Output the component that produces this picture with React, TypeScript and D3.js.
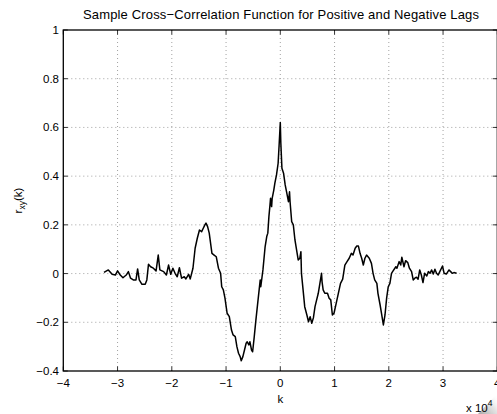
import React from "react";
import * as d3 from "d3";

// Lag (samples) and sample cross-correlation r_xy(k)
const lags: number[] = [
  -32500, -31700, -31000, -30400, -30000, -29500, -29000, -28400, -28000, -27600,
  -27100, -26600, -26300, -26000, -25500, -24900, -24600, -24300, -23900, -23400,
  -22900, -22500, -22200, -21500, -21000, -20600, -20200, -19800, -19400, -19000,
  -18600, -18200, -17700, -17400, -16900, -16600, -16100, -15700, -15300, -14900,
  -14500, -14200, -13900, -13700, -13400, -13100, -12600, -12200, -11800, -11400,
  -11000, -10800, -10500, -10200, -9800, -9400, -9000, -8700, -8300, -8000,
  -7700, -7400, -7200, -6900, -6600, -6300, -6100, -5800, -5600, -5300,
  -5100, -4800, -4500, -4100, -3700, -3600, -3200, -2800, -2500, -2300,
  -2100, -1900, -1800, -1600, -1500, -1200, -1000, -700, -400, -200,
  0, 100, 300, 600, 900, 1200, 1500, 1700, 1800, 2100,
  2400, 2700, 3000, 3300, 3600, 3800, 3900, 4200, 4500, 4900,
  5200, 5500, 5800, 6100, 6400, 6700, 7000, 7300, 7600, 7700,
  7900, 8200, 8700, 9000, 9300, 9600, 9900, 10300, 10700, 11100,
  11500, 11900, 12300, 12700, 13100, 13400, 13800, 14100, 14400, 14700,
  15000, 15300, 15600, 15900, 16400, 16800, 17100, 17400, 17800, 18000,
  18400, 18700, 19000, 19300, 19600, 19900, 20200, 20500, 20700, 21300,
  21500, 21900, 22200, 22400, 22800, 23100, 23500, 23800, 24200, 24500,
  24800, 25100, 25400, 25700, 26000, 26300, 26600, 27000, 27300, 27600,
  27900, 28200, 28500, 28800, 29100, 29400, 29900, 30200, 30600, 31100,
  31400, 31700, 32000, 32500,
];

const rxy: number[] = [
  0.005, 0.015, -0.003, -0.006, 0.011, -0.006, -0.017, -0.006, 0.008, -0.019,
  -0.026, -0.026, 0.019, -0.026, -0.044, -0.044, -0.026, 0.038, 0.028, 0.022,
  0.011, 0.076, 0.015, 0.008, -0.006, 0.035, -0.003, 0.022, 0.001, -0.013,
  0.024, -0.019, -0.013, -0.022, -0.003, -0.022, 0.022, 0.104, 0.145, 0.179,
  0.172, 0.186, 0.2, 0.207, 0.193, 0.166, 0.083, 0.076, 0.069, 0.022,
  0.001, -0.054, -0.067, -0.101, -0.163, -0.177, -0.232, -0.252, -0.259, -0.3,
  -0.327, -0.341, -0.358, -0.341, -0.314, -0.286, -0.28, -0.293, -0.28, -0.314,
  -0.321, -0.259, -0.191, -0.108, -0.026, -0.054, 0.015, 0.11, 0.152, 0.166,
  0.234, 0.282, 0.309, 0.275, 0.309, 0.343, 0.371, 0.405, 0.453, 0.535,
  0.62, 0.535, 0.432, 0.412, 0.364, 0.33, 0.295, 0.336, 0.295, 0.213,
  0.2, 0.138, 0.097, 0.056, 0.063, 0.09, 0.001, -0.067, -0.136, -0.17,
  -0.198, -0.177, -0.204, -0.182, -0.136, -0.108, -0.081, -0.04, 0.001, -0.034,
  -0.067, -0.081, -0.081, -0.101, -0.108, -0.17, -0.163, -0.122, -0.081, -0.04,
  -0.023, 0.035, 0.049, 0.063, 0.083, 0.076, 0.104, 0.113, 0.113, 0.083,
  0.063, 0.035, 0.063, 0.076, 0.063, 0.042, 0.001, -0.026, -0.04, -0.081,
  -0.129, -0.17, -0.211, -0.17, -0.101, -0.054, -0.04, 0.001, 0.008, 0.028,
  0.022, 0.049, 0.035, 0.067, 0.028, 0.053, 0.045, 0.022, 0.008, -0.026,
  -0.019, -0.015, -0.023, 0.015, -0.006, -0.037, 0.001, -0.01, 0.008, 0.001,
  0.015, -0.002, 0.018, 0.001, -0.006, 0.008, 0.031, 0.001, -0.002, 0.015,
  0.008, 0.001, 0.004, 0.001,
];

const xTicks: number[] = [-40000, -30000, -20000, -10000, 0, 10000, 20000, 30000, 40000];
const xTickLabels: string[] = ["\u22124", "\u22123", "\u22122", "\u22121", "0", "1", "2", "3", "4"];
const yTicks: number[] = [-0.4, -0.2, 0, 0.2, 0.4, 0.6, 0.8, 1];
const yTickLabels: string[] = ["\u22120.4", "\u22120.2", "0", "0.2", "0.4", "0.6", "0.8", "1"];

const titleText = "Sample Cross\u2212Correlation Function for Positive and Negative Lags";

const W = 497;
const H = 414;
const M = { left: 63.3, right: 497.3, top: 30, bottom: 371 };
const FONT = "'Liberation Sans', Arial, Helvetica, sans-serif";

export default function App() {
  const x = d3.scaleLinear().domain([-40000, 40000]).range([M.left, M.right]);
  const y = d3.scaleLinear().domain([-0.4, 1]).range([M.bottom, M.top]);

  const pts: [number, number][] = lags.map((k, i) => [k, rxy[i]]);
  const line = d3
    .line<[number, number]>()
    .x((d) => x(d[0]))
    .y((d) => y(d[1]));

  const tickLen = 4.5;

  return (
    <div style={{ position: "absolute", left: 0, top: 0 }}>
      <svg width={W} height={H} style={{ display: "block", background: "#fff" }}>
        <defs>
          <linearGradient id="curl" x1="0" y1="1" x2="1" y2="0">
            <stop offset="0" stopColor="#9a9a9a" stopOpacity="0.9" />
            <stop offset="0.55" stopColor="#d0d0d0" stopOpacity="0.6" />
            <stop offset="1" stopColor="#ffffff" stopOpacity="0" />
          </linearGradient>
        </defs>
        <rect x={0} y={0} width={W} height={H} fill="#fff" />

        {/* grid */}
        <g stroke="#8a8a8a" strokeWidth={0.8} strokeDasharray="1,3">
          {xTicks.slice(1, -1).map((t) => (
            <line key={"gx" + t} x1={x(t)} x2={x(t)} y1={M.top} y2={M.bottom} />
          ))}
          {yTicks.slice(1, -1).map((t) => (
            <line key={"gy" + t} x1={M.left} x2={M.right} y1={y(t)} y2={y(t)} />
          ))}
        </g>

        {/* ticks on all four sides, pointing inward */}
        <g stroke="#000" strokeWidth={0.8}>
          {xTicks.map((t) => (
            <g key={"tx" + t}>
              <line x1={x(t)} x2={x(t)} y1={M.bottom} y2={M.bottom - tickLen} />
              <line x1={x(t)} x2={x(t)} y1={M.top} y2={M.top + tickLen} />
            </g>
          ))}
          {yTicks.map((t) => (
            <g key={"ty" + t}>
              <line x1={M.left} x2={M.left + tickLen} y1={y(t)} y2={y(t)} />
              <line x1={M.right} x2={M.right - tickLen} y1={y(t)} y2={y(t)} />
            </g>
          ))}
        </g>

        {/* data */}
        <path d={line(pts) || ""} fill="none" stroke="#000" strokeWidth={1.5} strokeLinejoin="round" />

        {/* axes box */}
        <rect
          x={M.left}
          y={M.top}
          width={M.right - M.left}
          height={M.bottom - M.top}
          fill="none"
          stroke="#000"
          strokeWidth={1.3}
        />

        {/* tick labels */}
        <g fontFamily={FONT} fontSize={11.5} fill="#000">
          {xTicks.map((t, i) => (
            <text key={"lx" + t} x={x(t)} y={387} textAnchor="middle">
              {xTickLabels[i]}
            </text>
          ))}
          {yTicks.map((t, i) => (
            <text key={"ly" + t} x={59} y={y(t) + 4} textAnchor="end">
              {yTickLabels[i]}
            </text>
          ))}
        </g>

        {/* labels */}
        <text
          x={83}
          y={18.5}
          textLength={396}
          lengthAdjust="spacing"
          fontFamily={FONT}
          fontSize={13}
        >
          {titleText}
        </text>
        <text x={280.3} y={403} textAnchor="middle" fontFamily={FONT} fontSize={11.5}>
          k
        </text>
        <text
          transform={`translate(22, ${(M.top + M.bottom) / 2}) rotate(-90)`}
          textAnchor="middle"
          fontFamily={FONT}
          fontSize={11.5}
        >
          r<tspan fontSize={8.5} dy={3}>xy</tspan>
          <tspan dy={-3}>(k)</tspan>
        </text>

        {/* exponent note */}
        <polygon points="478,414 497,394 497,414" fill="url(#curl)" />
        <text x={466} y={412} fontFamily={FONT} fontSize={11.5}>
          x 10<tspan fontSize={8.5} dy={-6}>4</tspan>
        </text>
      </svg>
    </div>
  );
}
